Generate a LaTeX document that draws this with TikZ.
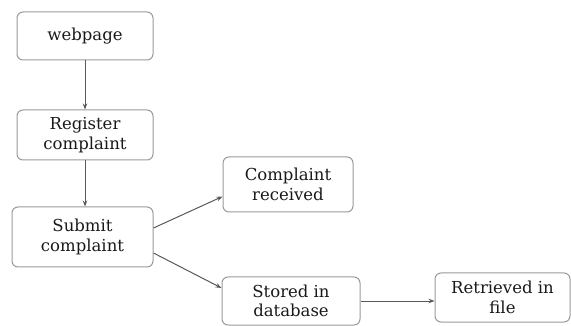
\documentclass[tikz,border=0pt]{standalone}
\usepackage{fontspec}
\setmainfont{DejaVu Serif}
\usetikzlibrary{arrows.meta}
\begin{document}
\begin{tikzpicture}[x=1pt,y=-1pt,
  box/.style={draw=black!40, line width=1pt, rounded corners=6pt, align=center,
    inner sep=0pt, font=\fontsize{16.5}{19.5}\selectfont, text=black!90},
  conn/.style={draw=black!65, line width=1pt, -{Stealth[length=6pt,width=4.5pt]}}]
\useasboundingbox (0,0) rectangle (571,326);
\node[box, minimum width=136pt, minimum height=48pt] (web) at (85,36) {webpage};
\node[box, minimum width=136pt, minimum height=50pt] (reg) at (85,135) {Register\\complaint};
\node[box, minimum width=141pt, minimum height=60pt] (sub) at (82.5,237) {Submit\\complaint};
\node[box, minimum width=130pt, minimum height=55pt] (rec) at (288,184.5) {Complaint\\received};
\node[box, minimum width=138pt, minimum height=48pt] (sto) at (291,301) {Stored in\\database};
\node[box, minimum width=135pt, minimum height=49pt] (ret) at (502.5,297.5) {Retrieved in\\file};
\draw[conn] (web.south) -- (web.south |- reg.north);
\draw[conn] (reg.south) -- (reg.south |- sub.north);
\draw[conn] ([yshift=9pt]sub.east) -- ([yshift=-12pt]rec.west);
\draw[conn] ([yshift=-16pt]sub.east) -- ([yshift=13pt]sto.west);
\draw[conn] (sto.east) -- (sto.east -| ret.west);
\end{tikzpicture}
\end{document}
